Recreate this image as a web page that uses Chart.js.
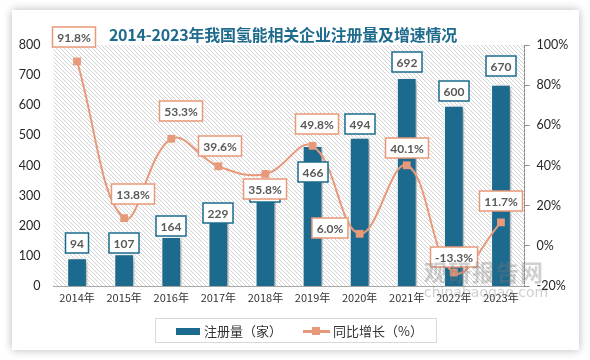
<!DOCTYPE html>
<html>
<head>
<meta charset="utf-8">
<script src="https://cdn.jsdelivr.net/npm/chart.js@4.4.1/dist/chart.umd.min.js"></script>
<style>
  body { margin: 0; background: #fff; width: 590px; height: 360px; overflow: hidden; position: relative; }
  #card { position: absolute; left: 12px; top: 10px; width: 567px; height: 340px; background: #fff;
          box-shadow: 0 0 9px rgba(0,0,0,0.28); }
  #chart { position: absolute; left: 0; top: 0; }
  #title { position: absolute; left: 0; width: 566px; top: 22px; text-align: center;
           font: bold 16px "Noto Sans CJK SC", sans-serif; color: #1f6b8e; letter-spacing: -0.2px; }
  #legend { position: absolute; left: 155px; top: 318px; width: 280px; height: 23px;
            border: 1px solid #d9d9d9; font: 13px "Noto Sans CJK SC", sans-serif; color: #333; }
  #legend span { position: absolute; }
  .sw-bar { left: 20px; top: 9px; width: 24px; height: 7px; background: #1c6b8f; }
  .sw-line { left: 147px; top: 11px; width: 27px; height: 3px; background: #e8997a; }
  .sw-line i { position: absolute; left: 9px; top: -3px; width: 8px; height: 8px; background: #e8997a; }
  .lt1 { left: 48px; top: 2px; }
  .lt2 { left: 177px; top: 2px; }
  #wm { position: absolute; left: 424px; top: 254px; color: rgba(120,120,120,0.35); pointer-events: none; }
  #wm b { display: block; font: bold 23px "Noto Sans CJK SC", sans-serif; letter-spacing: 1px; }
  #wm small { display: block; font: 14px "DejaVu Sans", sans-serif; margin-top: -4px; }
</style>
</head>
<body>
<div id="card"></div>
<canvas id="chart" width="590" height="360"></canvas>
<div id="title">2014-2023年我国氢能相关企业注册量及增速情况</div>
<div id="legend">
  <span class="sw-bar"></span><span class="lt1">注册量（家）</span>
  <span class="sw-line"><i></i></span><span class="lt2">同比增长（%）</span>
</div>
<div id="wm"><b>观研报告网</b><small>chinabaogao.com</small></div>
<script>
// Chart data
const years = ['2014年', '2015年', '2016年', '2017年', '2018年', '2019年', '2020年', '2021年', '2022年', '2023年'];
const registrations = [94, 107, 164, 229, 311, 466, 494, 692, 600, 670];
const growth = [91.8, 13.8, 53.3, 39.6, 35.8, 49.8, 6.0, 40.1, -13.3, 11.7];
const leftTicks = [0, 100, 200, 300, 400, 500, 600, 700, 800];
const rightTicks = [-20, 0, 20, 40, 60, 80, 100];

const BLUE = '#1c6b8f';
const SALMON = '#e8997a';

// hatched plot background
function makeHatch() {
    const c = document.createElement('canvas');
    c.width = 4; c.height = 4;
    const g = c.getContext('2d');
    g.strokeStyle = '#d2d2d2';
    g.lineWidth = 1;
    g.beginPath();
    g.moveTo(-1, -1); g.lineTo(5, 5);
    g.stroke();
    return g.createPattern(c, 'repeat');
}

const hatchBg = {
    id: 'hatchBg',
    beforeDatasetsDraw(chart) {
        const { ctx, chartArea: a } = chart;
        ctx.save();
        ctx.fillStyle = makeHatch();
        ctx.fillRect(a.left, a.top, a.right - a.left, a.bottom - a.top);
        ctx.restore();
    }
};

// drop shadow under the bars
const barShadow = {
    id: 'barShadow',
    beforeDatasetDraw(chart, args) {
        if (args.index !== 0) return;
        const ctx = chart.ctx;
        ctx.save();
        ctx.shadowColor = 'rgba(0,0,0,0.35)';
        ctx.shadowBlur = 6;
        ctx.shadowOffsetX = 3;
        ctx.shadowOffsetY = 2;
    },
    afterDatasetDraw(chart, args) {
        if (args.index === 0) chart.ctx.restore();
    }
};

// boxed value labels
const boxLabels = {
    id: 'boxLabels',
    afterDatasetsDraw(chart, args, opts) {
        const ctx = chart.ctx;
        opts.sets.forEach(set => {
            const meta = chart.getDatasetMeta(set.dataset);
            const values = chart.data.datasets[set.dataset].data;
            meta.data.forEach((el, i) => {
                const text = set.format(values[i]);
                const [dx, dy] = set.offsets[i];
                ctx.save();
                ctx.font = 'bold 12px Lato, sans-serif';
                const w = Math.round(ctx.measureText(text).width + 9);
                const h = 20;
                const cx = Math.round(el.x + dx), cy = Math.round(el.y + dy);
                ctx.fillStyle = '#fff';
                ctx.fillRect(cx - w / 2, cy - h / 2, w, h);
                ctx.strokeStyle = set.color;
                ctx.lineWidth = 1.5;
                ctx.strokeRect(cx - w / 2, cy - h / 2, w, h);
                ctx.fillStyle = '#595959';
                ctx.textAlign = 'center';
                ctx.textBaseline = 'middle';
                ctx.fillText(text, cx, cy + 1);
                ctx.restore();
            });
        });
    }
};

new Chart(document.getElementById('chart'), {
    data: {
        labels: years,
        datasets: [
            {
                type: 'bar',
                label: '注册量（家）',
                data: registrations,
                backgroundColor: BLUE,
                borderColor: '#fff',
                borderWidth: 1.5,
                borderSkipped: 'bottom',
                categoryPercentage: 1,
                barPercentage: 0.44,
                yAxisID: 'y',
                order: 2
            },
            {
                type: 'line',
                label: '同比增长（%）',
                data: growth,
                borderColor: SALMON,
                backgroundColor: SALMON,
                borderWidth: 2,
                tension: 0.4,
                pointStyle: 'rect',
                pointRadius: 5.5,
                pointBorderWidth: 0,
                yAxisID: 'y1',
                order: 1
            }
        ]
    },
    options: {
        responsive: false,
        animation: false,
        devicePixelRatio: 1,
        layout: { padding: { top: 45, left: 0, right: 0, bottom: 0 } },
        plugins: {
            legend: { display: false },
            title: { display: false },
            tooltip: { enabled: false },
            boxLabels: {
                sets: [
                    {
                        dataset: 0, color: BLUE, format: v => String(v),
                        offsets: [[0, -15], [0, -11], [0, -11], [0, -4], [0, 0], [0, 26], [0, -13], [0, -16], [0, -14], [0, -18]]
                    },
                    {
                        dataset: 1, color: SALMON, format: v => v.toFixed(1) + '%',
                        offsets: [[-3, -24], [9, -24], [10, -28], [2, -20], [0, 15], [4, -22], [-30, -6], [0, -17], [0, -16], [0, -21]]
                    }
                ]
            }
        },
        scales: {
            x: {
                grid: { display: false, drawTicks: false },
                border: { display: true, color: '#a6a6a6' },
                ticks: { color: '#333', font: { size: 11, family: '"Noto Sans CJK SC", sans-serif' }, padding: 5, maxRotation: 0 },
                afterFit(s) { s.height = 74; }
            },
            y: {
                position: 'left',
                min: leftTicks[0],
                max: leftTicks[leftTicks.length - 1],
                afterBuildTicks(s) { s.ticks = leftTicks.map(v => ({ value: v })); },
                grid: { display: false, drawTicks: false },
                border: { display: false },
                ticks: { color: '#262626', font: { size: 12.5, family: 'Lato, sans-serif' }, padding: 13 },
                afterFit(s) { s.width = 53.5; }
            },
            y1: {
                position: 'right',
                min: rightTicks[0],
                max: rightTicks[rightTicks.length - 1],
                afterBuildTicks(s) { s.ticks = rightTicks.map(v => ({ value: v })); },
                grid: { drawOnChartArea: false, drawTicks: true, tickLength: 5, color: '#8c8c8c' },
                border: { display: true, color: '#8c8c8c' },
                ticks: { color: '#262626', font: { size: 12.5, family: 'Lato, sans-serif' }, padding: 7, callback: v => v + '%' },
                afterFit(s) { s.width = 65.5; }
            }
        }
    },
    plugins: [hatchBg, barShadow, boxLabels]
});
</script>
</body>
</html>
